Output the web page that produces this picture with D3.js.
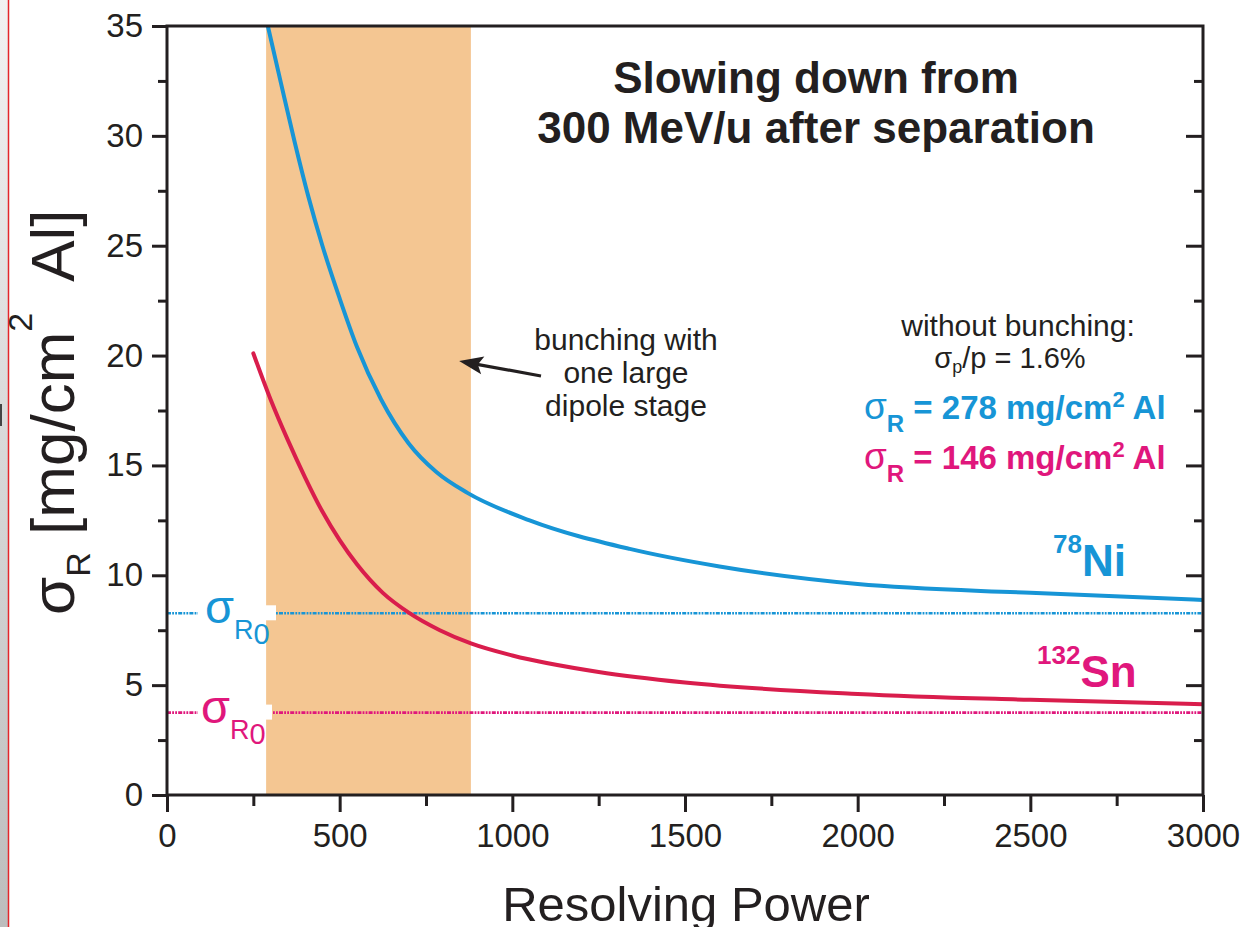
<!DOCTYPE html>
<html>
<head>
<meta charset="utf-8">
<script src="https://cdn.jsdelivr.net/npm/d3@7"></script>
<style>
  body { margin: 0; background: #fff; }
  svg { display: block; font-family: "Liberation Sans", Arial, Helvetica, sans-serif; }
  text { white-space: pre; }
</style>
</head>
<body>
<svg width="1243" height="927"></svg>
<script>
// resolving power (x) and sigma_R in mg/cm^2 Al (y)
const niPower = [292, 330, 370, 410, 450, 500, 550, 620, 700, 780, 870, 1050, 1340, 1600, 2000, 2500, 3000];
const niSigma = [35.0, 32.4, 29.7, 27.2, 25.0, 22.6, 20.4, 18.0, 16.0, 14.7, 13.75, 12.5, 11.2, 10.4, 9.6, 9.2, 8.88];
const snPower = [250, 300, 350, 400, 450, 500, 550, 625, 700, 790, 880, 1000, 1250, 1500, 2000, 2500, 3000];
const snSigma = [20.1, 18.0, 16.15, 14.45, 12.9, 11.6, 10.5, 9.2, 8.3, 7.5, 6.9, 6.35, 5.6, 5.12, 4.6, 4.33, 4.13];
const sigmaR0 = [8.27, 3.75];          // Ni, Sn limits (dotted)
const bunchBand = [287, 880];          // shaded resolving power range
const xTicks = [0, 500, 1000, 1500, 2000, 2500, 3000];
const yTicks = [0, 5, 10, 15, 20, 25, 30, 35];

const BLUE = '#1795d6', RED = '#d91d4c', MAGENTA = '#e0177c', INK = '#231f20';

const svg = d3.select('svg');
const x = d3.scaleLinear().domain([0, 3000]).range([167, 1203]);
const y = d3.scaleLinear().domain([0, 35]).range([795, 26]);

// grey page edge on the far left
const grad = svg.append('defs').append('linearGradient')
  .attr('id', 'edge').attr('x1', 0).attr('y1', 0).attr('x2', 0).attr('y2', 1);
grad.append('stop').attr('offset', 0).attr('stop-color', '#f2f2f2');
grad.append('stop').attr('offset', 1).attr('stop-color', '#bdbdbd');
svg.append('rect').attr('x', 0).attr('y', 0).attr('width', 8).attr('height', 927).attr('fill', 'url(#edge)');
svg.append('rect').attr('x', 0).attr('y', 404).attr('width', 2).attr('height', 22).attr('fill', '#444');
svg.append('line').attr('x1', 8.5).attr('x2', 8.5).attr('y1', 0).attr('y2', 927)
  .attr('stroke', '#e3262b').attr('stroke-width', 1.5);

svg.select('defs').append('clipPath').attr('id', 'plot')
  .append('rect').attr('x', x(0)).attr('y', y(35)).attr('width', x(3000) - x(0)).attr('height', y(0) - y(35));

// shaded band
svg.append('rect')
  .attr('x', x(bunchBand[0])).attr('y', y(35))
  .attr('width', x(bunchBand[1]) - x(bunchBand[0]))
  .attr('height', y(0) - y(35))
  .attr('fill', '#f4c692');

// dotted sigma_R0 lines
const dotColors = [BLUE, MAGENTA];
svg.append('g').selectAll('line').data(sigmaR0).enter().append('line')
  .attr('x1', x(0)).attr('x2', x(3000))
  .attr('y1', d => y(d)).attr('y2', d => y(d))
  .attr('stroke', (d, i) => dotColors[i])
  .attr('stroke-width', 2.6)
  .attr('stroke-dasharray', '4,1.2,1.8,1.2,1.8,1.2');

// white patches behind the sigma_R0 labels
const patchRight = [276, 272];
svg.append('g').selectAll('rect').data(sigmaR0).enter().append('rect')
  .attr('x', 198).attr('y', d => y(d) - 8)
  .attr('width', (d, i) => patchRight[i] - 198).attr('height', 15)
  .attr('fill', '#fff');

sigmaR0.forEach(function(d, i) {
  const t = svg.append('text').attr('x', i === 0 ? 205 : 201).attr('y', y(d) + 10)
    .attr('fill', dotColors[i]).attr('font-size', 47);
  t.append('tspan').text('σ');
  t.append('tspan').attr('font-size', 27).attr('dy', 16).text('R');
  t.append('tspan').attr('font-size', 29).attr('dy', 5).text('0');
});

// curves
const line = d3.line()
  .x(d => x(d[0]))
  .y(d => y(d[1]))
  .curve(d3.curveMonotoneX);

const curves = [
  { pts: d3.zip(niPower, niSigma), color: BLUE },
  { pts: d3.zip(snPower, snSigma), color: RED }
];
svg.append('g').attr('clip-path', 'url(#plot)')
  .selectAll('path').data(curves).enter().append('path')
  .attr('d', d => line(d.pts))
  .attr('fill', 'none')
  .attr('stroke', d => d.color)
  .attr('stroke-width', 4)
  .attr('stroke-linecap', 'round');

// axes
const minorX = d3.range(250, 3000, 500);
const minorY = d3.range(2.5, 35, 5);

function styleAxis(g) {
  g.selectAll('line').attr('stroke', INK).attr('stroke-width', 3);
  g.selectAll('path').remove();
  g.selectAll('text').attr('fill', INK).attr('font-size', 33)
    .attr('font-family', '"Liberation Sans", Arial, Helvetica, sans-serif');
}

svg.append('g').attr('transform', `translate(0,${y(0)})`)
  .call(d3.axisBottom(x).tickValues(xTicks).tickFormat(d3.format('d')).tickSize(17).tickPadding(12).tickSizeOuter(0))
  .call(styleAxis);
svg.append('g').attr('transform', `translate(0,${y(0)})`)
  .call(d3.axisBottom(x).tickValues(minorX).tickSize(11).tickFormat('').tickSizeOuter(0))
  .call(styleAxis);

svg.append('g').attr('transform', `translate(${x(0)},0)`)
  .call(d3.axisLeft(y).tickValues(yTicks).tickSize(15).tickPadding(9).tickSizeOuter(0))
  .call(styleAxis);
svg.append('g').attr('transform', `translate(${x(0)},0)`)
  .call(d3.axisLeft(y).tickValues(minorY).tickSize(9).tickFormat('').tickSizeOuter(0))
  .call(styleAxis);

// right side ticks point inward
svg.append('g').attr('transform', `translate(${x(3000)},0)`)
  .call(d3.axisLeft(y).tickValues(yTicks.slice(1, -1)).tickSize(17).tickFormat('').tickSizeOuter(0))
  .call(styleAxis);
svg.append('g').attr('transform', `translate(${x(3000)},0)`)
  .call(d3.axisLeft(y).tickValues(minorY).tickSize(9).tickFormat('').tickSizeOuter(0))
  .call(styleAxis);

svg.append('rect')
  .attr('x', x(0)).attr('y', y(35))
  .attr('width', x(3000) - x(0)).attr('height', y(0) - y(35))
  .attr('fill', 'none').attr('stroke', INK).attr('stroke-width', 3);

// axis titles
svg.append('text').attr('x', 686).attr('y', 921)
  .attr('text-anchor', 'middle').attr('font-size', 49).attr('fill', INK)
  .text('Resolving Power');

const yl = svg.append('text').attr('transform', 'translate(74,615) rotate(-90)')
  .attr('font-size', 62).attr('fill', INK);
yl.append('tspan').text('σ');
yl.append('tspan').attr('font-size', 34).attr('dy', 16).text('R');
yl.append('tspan').attr('dy', -16).text(' [mg/cm');
yl.append('tspan').attr('font-size', 34).attr('dy', -42).text('2');
yl.append('tspan').attr('dy', 42).text('  Al]');

// title
svg.append('text').attr('x', 816).attr('y', 93)
  .attr('text-anchor', 'middle').attr('font-size', 44).attr('font-weight', 'bold').attr('fill', INK)
  .text('Slowing down from');
svg.append('text').attr('x', 816).attr('y', 143)
  .attr('text-anchor', 'middle').attr('font-size', 44).attr('font-weight', 'bold').attr('fill', INK)
  .text('300 MeV/u after separation');

// annotation for the band
['bunching with', 'one large', 'dipole stage'].forEach(function(s, i) {
  svg.append('text').attr('x', 626).attr('y', 350 + i * 33)
    .attr('text-anchor', 'middle').attr('font-size', 30).attr('fill', INK).text(s);
});
const tail = [1083, 19.07], tip = [846, 19.75];
const ang = Math.atan2(y(tip[1]) - y(tail[1]), x(tip[0]) - x(tail[0]));
svg.append('line')
  .attr('x1', x(tail[0])).attr('y1', y(tail[1]))
  .attr('x2', x(tip[0]) - 14 * Math.cos(ang)).attr('y2', y(tip[1]) - 14 * Math.sin(ang))
  .attr('stroke', INK).attr('stroke-width', 3.2);
svg.append('path')
  .attr('d', 'M0,0 L-24,-9 L-19,0 L-24,9 Z')
  .attr('transform', `translate(${x(tip[0])},${y(tip[1])}) rotate(${ang * 180 / Math.PI})`)
  .attr('fill', INK);

// "without bunching" block
svg.append('text').attr('x', 1018).attr('y', 336)
  .attr('text-anchor', 'middle').attr('font-size', 30).attr('fill', INK)
  .text('without bunching:');
const sp = svg.append('text').attr('x', 1010).attr('y', 368)
  .attr('text-anchor', 'middle').attr('font-size', 29).attr('fill', INK);
sp.append('tspan').text('σ');
sp.append('tspan').attr('font-size', 18).attr('dy', 5).text('p');
sp.append('tspan').attr('dy', -5).text('/p = 1.6%');

const noBunch = [{ v: '278', c: BLUE, yb: 419 }, { v: '146', c: MAGENTA, yb: 469 }];
noBunch.forEach(function(d) {
  const t = svg.append('text').attr('x', 864).attr('y', d.yb)
    .attr('font-size', 33).attr('font-weight', 'bold').attr('fill', d.c);
  t.append('tspan').attr('font-weight', 'normal').attr('font-size', 37).text('σ');
  t.append('tspan').attr('font-size', 24).attr('dy', 13).text('R');
  t.append('tspan').attr('dy', -13).text(' = ' + d.v + ' mg/cm');
  t.append('tspan').attr('font-size', 22).attr('dy', -12).text('2');
  t.append('tspan').attr('dy', 12).text(' Al');
});

// isotope labels
const iso = [
  { mass: '78', el: 'Ni', c: BLUE, xs: 1053, yb: 576 },
  { mass: '132', el: 'Sn', c: MAGENTA, xs: 1037, yb: 687 }
];
iso.forEach(function(d) {
  const t = svg.append('text').attr('x', d.xs).attr('y', d.yb)
    .attr('font-weight', 'bold').attr('fill', d.c);
  t.append('tspan').attr('font-size', 26).attr('dy', -23).text(d.mass);
  t.append('tspan').attr('font-size', 44).attr('dy', 23).text(d.el);
});
</script>
</body>
</html>
